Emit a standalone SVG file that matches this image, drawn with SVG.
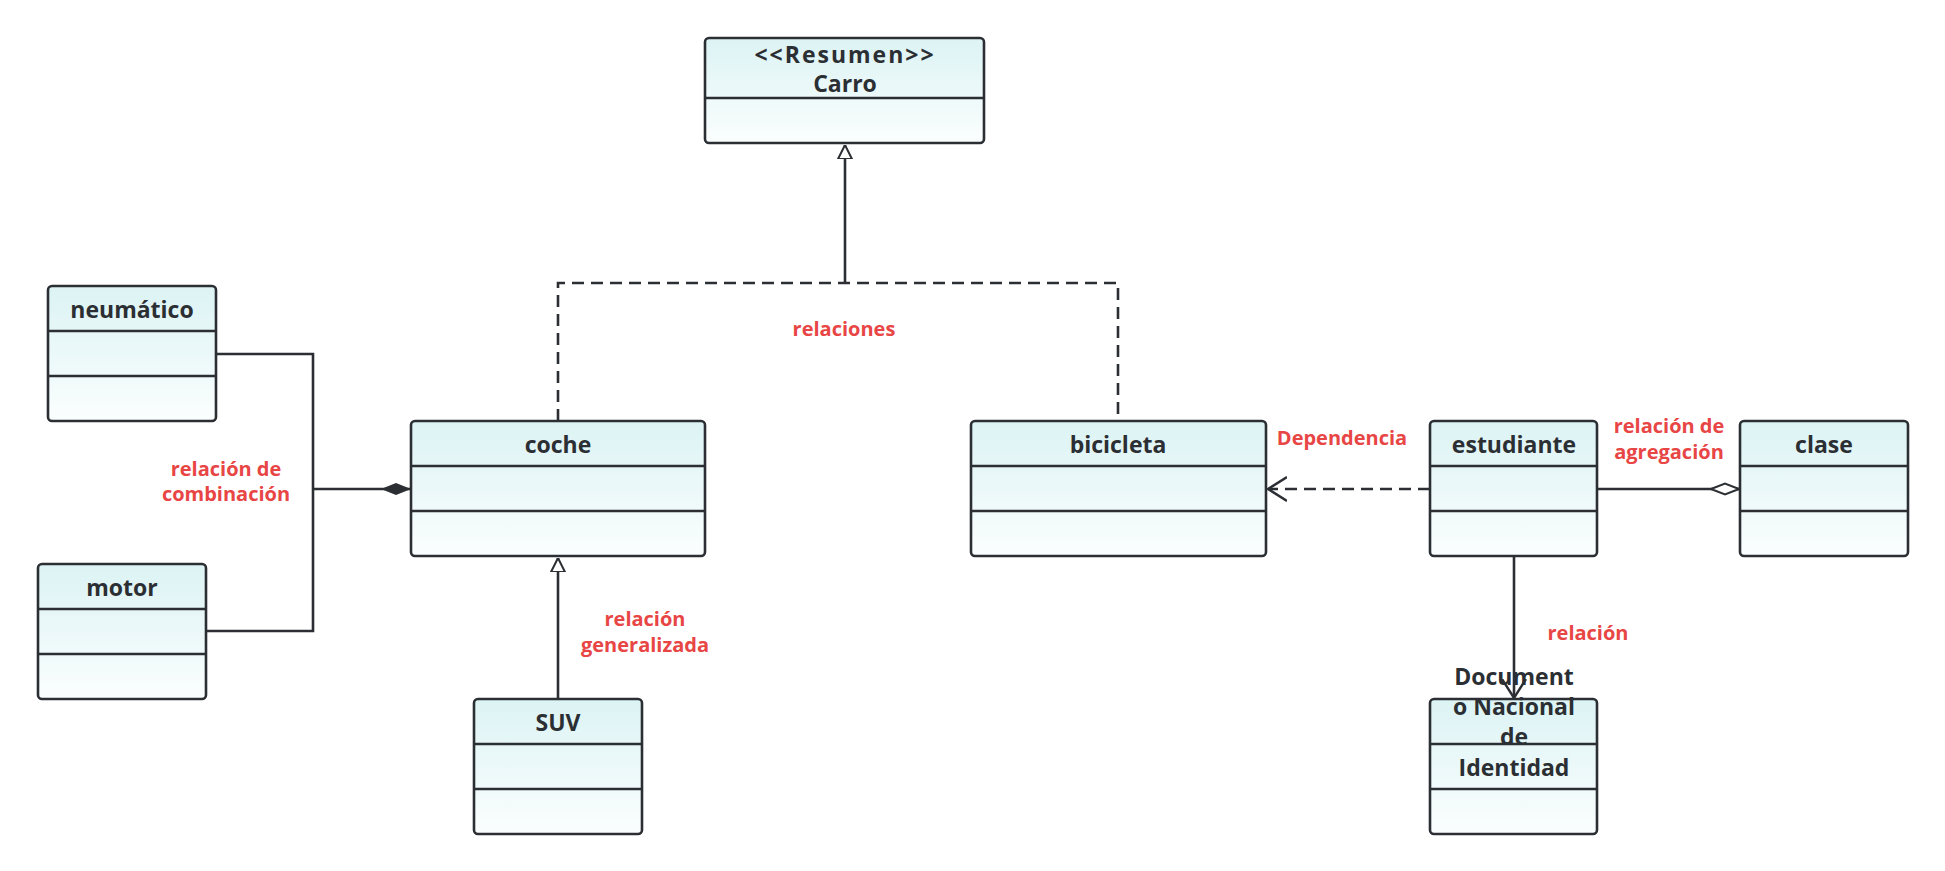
<svg xmlns="http://www.w3.org/2000/svg" width="1945" height="871" viewBox="0 0 1945 871">
<style>
.box{fill:url(#g);stroke:#2b2f33;stroke-width:2.6}
.div{stroke:#2b2f33;stroke-width:2.6}
.t{font-family:"Open Sans","Liberation Sans",sans-serif;font-weight:bold;font-size:23px;fill:#2b2f33;text-anchor:middle;dominant-baseline:central}
.l{font-family:"Open Sans","Liberation Sans",sans-serif;font-weight:bold;font-size:20px;fill:#e84545;text-anchor:middle;dominant-baseline:central}
.c{fill:none;stroke:#2b2f33;stroke-width:2.6}
.d{stroke-dasharray:12,7}
</style>
<defs>
<linearGradient id="g" x1="0" y1="0" x2="0" y2="1"><stop offset="0" stop-color="#dcf3f4"/><stop offset="1" stop-color="#fbfefe"/></linearGradient>
<marker id="tri" viewBox="0 0 14 18" refX="14" refY="9" markerWidth="14" markerHeight="18" markerUnits="userSpaceOnUse" orient="auto"><path d="M0,2 L14,9 L0,16 Z" fill="#fff" stroke="#2b2f33" stroke-width="2"/></marker>
<marker id="open" viewBox="0 0 20 26" refX="19" refY="13" markerWidth="20" markerHeight="26" markerUnits="userSpaceOnUse" orient="auto"><path d="M0,1 L19,13 L0,25" fill="none" stroke="#2b2f33" stroke-width="2.4"/></marker>
<marker id="fd" viewBox="0 0 30 14" refX="30" refY="7" markerWidth="30" markerHeight="14" markerUnits="userSpaceOnUse" orient="auto"><path d="M0,7 L15,1 L30,7 L15,13 Z" fill="#2b2f33"/></marker>
<marker id="hd" viewBox="0 0 30 14" refX="30" refY="7" markerWidth="30" markerHeight="14" markerUnits="userSpaceOnUse" orient="auto"><path d="M1,7 L15,1.5 L29,7 L15,12.5 Z" fill="#fff" stroke="#2b2f33" stroke-width="2"/></marker>
</defs>
<g id="connectors">
<path class="c" d="M845,283 V145" marker-end="url(#tri)"/>
<path class="c d" d="M558,421 V283 H1118 V421"/>
<path class="c" d="M216,354 H313 V631 H206 M313,489 H411" marker-end="url(#fd)"/>
<path class="c" d="M558,699 V558" marker-end="url(#tri)"/>
<path class="c d" d="M1430,489 H1268" marker-end="url(#open)"/>
<path class="c" d="M1597,489 H1740" marker-end="url(#hd)"/>
<path class="c" d="M1514,556 V698" marker-end="url(#open)"/>
<text class="l" x="844" y="328">relaciones</text>
<text class="l" x="226" y="468">relación de</text>
<text class="l" x="226" y="493">combinación</text>
<text class="l" x="645" y="618">relación</text>
<text class="l" x="645" y="644">generalizada</text>
<text class="l" x="1342" y="437">Dependencia</text>
<text class="l" x="1669" y="425">relación de</text>
<text class="l" x="1669" y="451">agregación</text>
<text class="l" x="1588" y="632">relación</text>
</g>
<g id="carro"><rect class="box" x="705" y="38" width="279" height="105" rx="4"/><line class="div" x1="705" y1="98" x2="984" y2="98"/><text class="t" x="845" y="54" letter-spacing="2">&lt;&lt;Resumen&gt;&gt;</text><text class="t" x="845" y="83">Carro</text></g>
<g id="neumatico"><rect class="box" x="48" y="286" width="168" height="135" rx="4"/><line class="div" x1="48" y1="331" x2="216" y2="331"/><line class="div" x1="48" y1="376" x2="216" y2="376"/><text class="t" x="132" y="309">neumático</text></g>
<g id="motor"><rect class="box" x="38" y="564" width="168" height="135" rx="4"/><line class="div" x1="38" y1="609" x2="206" y2="609"/><line class="div" x1="38" y1="654" x2="206" y2="654"/><text class="t" x="122" y="587">motor</text></g>
<g id="coche"><rect class="box" x="411" y="421" width="294" height="135" rx="4"/><line class="div" x1="411" y1="466" x2="705" y2="466"/><line class="div" x1="411" y1="511" x2="705" y2="511"/><text class="t" x="558" y="444">coche</text></g>
<g id="suv"><rect class="box" x="474" y="699" width="168" height="135" rx="4"/><line class="div" x1="474" y1="744" x2="642" y2="744"/><line class="div" x1="474" y1="789" x2="642" y2="789"/><text class="t" x="558" y="722">SUV</text></g>
<g id="bicicleta"><rect class="box" x="971" y="421" width="295" height="135" rx="4"/><line class="div" x1="971" y1="466" x2="1266" y2="466"/><line class="div" x1="971" y1="511" x2="1266" y2="511"/><text class="t" x="1118" y="444">bicicleta</text></g>
<g id="estudiante"><rect class="box" x="1430" y="421" width="167" height="135" rx="4"/><line class="div" x1="1430" y1="466" x2="1597" y2="466"/><line class="div" x1="1430" y1="511" x2="1597" y2="511"/><text class="t" x="1514" y="444">estudiante</text></g>
<g id="clase"><rect class="box" x="1740" y="421" width="168" height="135" rx="4"/><line class="div" x1="1740" y1="466" x2="1908" y2="466"/><line class="div" x1="1740" y1="511" x2="1908" y2="511"/><text class="t" x="1824" y="444">clase</text></g>
<g id="dni"><rect class="box" x="1430" y="699" width="167" height="135" rx="4"/><line class="div" x1="1430" y1="744" x2="1597" y2="744"/><line class="div" x1="1430" y1="789" x2="1597" y2="789"/><text class="t" x="1514" y="676">Document</text><text class="t" x="1514" y="706">o Nacional</text><text class="t" x="1514" y="736">de</text><text class="t" x="1514" y="767">Identidad</text></g>
</svg>
